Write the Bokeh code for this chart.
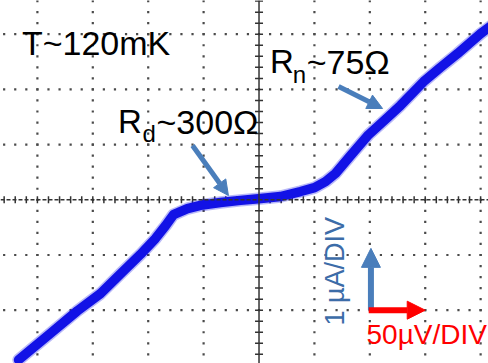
import numpy as np
from bokeh.plotting import figure
from bokeh.models import Range1d, Span, Arrow, NormalHead, ColumnDataSource
from bokeh.core.properties import value
from bokeh.embed import file_html
from bokeh.resources import INLINE

# I-V trace (x: voltage in µV, y: current in µA)
v_uV = [-217.0, -188.2, -163.8, -143.1, -125.0, -107.0, -93.4, -84.4, -77.2, -64.6,
        -52.8, -34.8, -16.7, -0.5, 19.4, 37.5, 50.1, 60.0, 69.1, 82.6,
        98.9, 116.0, 127.7, 148.5, 163.8, 179.2, 200.0, 210.0]
i_uA = [-2.90, -2.42, -2.01, -1.70, -1.34, -0.99, -0.70, -0.47, -0.27, -0.16,
        -0.10, -0.05, -0.01, 0.02, 0.06, 0.15, 0.22, 0.33, 0.48, 0.80,
        1.18, 1.49, 1.71, 2.14, 2.40, 2.65, 3.01, 3.16]

# screen divisions: 50 µV/DIV horizontally, 1 µA/DIV vertically
x_div_lines = [-200, -150, -100, -50, 50, 100, 150, 200]
y_div_lines = [-2, -1, 1, 2, 3]
x_minor = 10.0   # 1/5 DIV
y_minor = 0.2

x_lo, x_hi = -233.3, 207.1
y_lo, y_hi = -2.966, 3.611

p = figure(width=488, height=363, output_backend="svg", toolbar_location=None,
           x_axis_location=None, y_axis_location=None,
           x_range=Range1d(x_lo, x_hi), y_range=Range1d(y_lo, y_hi),
           min_border=0, outline_line_color=None, background_fill_color="white")
p.grid.visible = False

PX_Y = (y_hi - y_lo) / 363.0
PX_X = (x_hi - x_lo) / 488.0

# dotted graticule
gx, gy = [], []
xs_dots = np.arange(-230, 210, x_minor)
for yy in y_div_lines:
    gx += list(xs_dots)
    gy += [yy] * len(xs_dots)
ys_dots = np.arange(-2.8, 3.7, y_minor)
for xx in x_div_lines:
    gx += [xx] * len(ys_dots)
    gy += list(ys_dots)
p.scatter(gx, gy, marker="square", size=2.2, color="#4a4a4a", line_color=None)

# centre axes with minor ticks
p.add_layout(Span(location=0, dimension="width", line_color="#333333", line_width=1.5, line_dash="4 2"))
p.add_layout(Span(location=0, dimension="height", line_color="#333333", line_width=1.5))
tx = np.arange(-230, 210, x_minor)
p.scatter(tx, np.zeros_like(tx), marker="dash", angle=np.pi / 2, size=7, line_color="#333333", line_width=1.5)
ty = np.arange(-2.8, 3.7, y_minor)
p.scatter(np.zeros_like(ty), ty, marker="dash", size=8, line_color="#333333", line_width=1.5)

# trace
src = ColumnDataSource(dict(v=v_uV, i=i_uA))
p.line("v", "i", source=src, line_width=12.5, line_color="#1818e8", line_alpha=0.3,
       line_join="round", line_cap="round")
p.line("v", "i", source=src, line_width=9.5, line_color="#1212e6",
       line_join="round", line_cap="round")

font = value("Liberation Sans")
def lab(x, y, t, size, color="black", angle=0.0):
    d = 0.32 * size
    if angle == 0.0:
        y = y + d * PX_Y
    else:
        x = x - d * PX_X
    p.text(x=[x], y=[y], text=[t], text_font=font, text_font_size=f"{size}px",
           text_color=color, text_baseline="alphabetic", text_align="left", angle=angle)

lab(-214, 2.645, "T~120mK", 34)
# R_d ~ 300 Ω
lab(-127.3, 1.219, "R", 33)
lab(-105.2, 1.060, "d", 24)
lab(-92.5, 1.219, "~300Ω", 34)
# R_n ~ 75 Ω
lab(9.9, 2.306, "R", 33)
lab(30.5, 2.140, "n", 24)
lab(43.0, 2.306, "~75Ω", 34)

steel = "#4a7ebb"
p.add_layout(Arrow(x_start=-60.0, y_start=0.984, x_end=-27.6, y_end=0.078,
                   line_color=steel, line_width=5,
                   end=NormalHead(size=15, fill_color=steel, line_color=steel)))
p.add_layout(Arrow(x_start=71.8, y_start=2.053, x_end=111.5, y_end=1.654,
                   line_color=steel, line_width=5,
                   end=NormalHead(size=15, fill_color=steel, line_color=steel)))

# scale arrows
p.add_layout(Arrow(x_start=101, y_start=-2.0, x_end=101, y_end=-0.88,
                   line_color=steel, line_width=6,
                   end=NormalHead(size=19, fill_color=steel, line_color=steel)))
p.add_layout(Arrow(x_start=99, y_start=-2.0, x_end=150, y_end=-2.0,
                   line_color="#ff0000", line_width=6,
                   end=NormalHead(size=18, fill_color="#ff0000", line_color="#ff0000")))
lab(76.3, -2.277, "1 µA/DIV", 27, color="#3c6ca8", angle=np.pi / 2)
lab(97.0, -2.604, "50µV/DIV", 28, color="#ff0000")

open("out.html", "w").write(file_html(p, INLINE))
